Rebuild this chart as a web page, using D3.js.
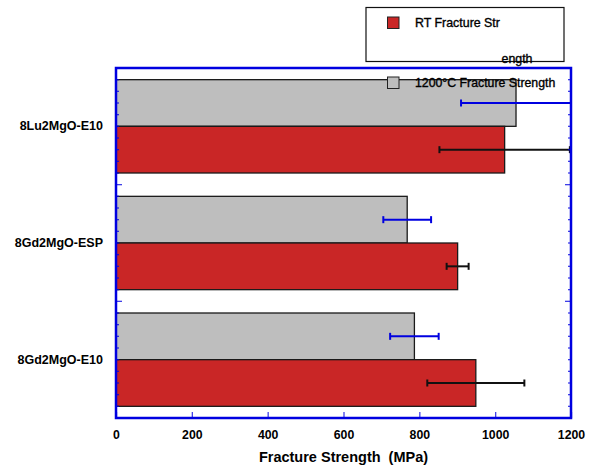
<!DOCTYPE html>
<html>
<head>
<meta charset="utf-8">
<script src="https://cdn.jsdelivr.net/npm/d3@7/dist/d3.min.js"></script>
<style>
  html, body { margin: 0; padding: 0; background: #fff; }
  svg { display: block; font-family: "Liberation Sans", Arial, Helvetica, sans-serif; }
  text { white-space: pre; }
</style>
</head>
<body>
<svg id="chart" width="595" height="466"></svg>
<script>
// Fracture strength of the three compositions (MPa)
const categories = ["8Lu2MgO-E10", "8Gd2MgO-ESP", "8Gd2MgO-E10"];
const rtStrength = [1025, 901, 949];
const rtError = [172, 29, 128];
const htStrength = [1055, 768, 787];
const htError = [145, 63, 64];
const xTickValues = [0, 200, 400, 600, 800, 1000, 1200];
const seriesNames = ["RT Fracture Str", "1200°C Fracture Strength"];

const svg = d3.select("#chart");
const pLeft = 116, pRight = 571, pTop = 68, pBottom = 418;

const x = d3.scaleLinear().domain([0, 1200]).range([pLeft, pRight]);
const y = d3.scaleBand().domain(categories).range([pTop, pBottom])
  .paddingInner(0.2).paddingOuter(0.1);
const sub = d3.scaleBand().domain(["ht", "rt"]).range([0, y.bandwidth()]);

const colors = { rt: "#c92626", ht: "#bebebe" };
const errColors = { rt: "#111111", ht: "#0000e0" };

svg.append("defs").append("clipPath").attr("id", "plotClip")
  .append("rect").attr("x", pLeft).attr("y", pTop)
  .attr("width", pRight - pLeft).attr("height", pBottom - pTop);

const rows = categories.map((c, i) => [
  { cat: c, key: "ht", v: htStrength[i], e: htError[i] },
  { cat: c, key: "rt", v: rtStrength[i], e: rtError[i] }
]).flat();

const plot = svg.append("g").attr("clip-path", "url(#plotClip)");

// bars
plot.selectAll("rect.bar").data(rows).join("rect")
  .attr("class", "bar")
  .attr("x", x(0))
  .attr("y", d => y(d.cat) + sub(d.key))
  .attr("width", d => x(d.v) - x(0))
  .attr("height", sub.bandwidth())
  .attr("fill", d => colors[d.key])
  .attr("stroke", "#1a1a1a")
  .attr("stroke-width", 1.3);

// error bars
const cy = d => y(d.cat) + sub(d.key) + sub.bandwidth() / 2;
const eb = plot.selectAll("g.err").data(rows).join("g").attr("class", "err")
  .attr("stroke", d => errColors[d.key]).attr("stroke-width", 2);
eb.append("line")
  .attr("x1", d => x(d.v - d.e)).attr("x2", d => x(d.v + d.e))
  .attr("y1", cy).attr("y2", cy);
[-1, 1].forEach(s => {
  eb.append("line")
    .attr("x1", d => x(d.v + s * d.e)).attr("x2", d => x(d.v + s * d.e))
    .attr("y1", d => cy(d) - 3.5)
    .attr("y2", d => cy(d) + 3.5);
});

// frame
const blue = "#0000e0";
svg.append("rect").attr("x", pLeft).attr("y", pTop)
  .attr("width", pRight - pLeft).attr("height", pBottom - pTop)
  .attr("fill", "none").attr("stroke", blue).attr("stroke-width", 2.5);

// bottom axis: major ticks pointing inward, labels below
const xAxis = d3.axisBottom(x).tickValues(xTickValues).tickFormat(d3.format("d"))
  .tickSizeInner(-6).tickSizeOuter(0).tickPadding(12);
const gx = svg.append("g").attr("transform", `translate(0,${pBottom})`).call(xAxis);
gx.select(".domain").remove();
gx.selectAll(".tick line").attr("stroke", blue).attr("stroke-width", 1.3).attr("opacity", 0.75);
gx.selectAll(".tick text").attr("fill", "#000").attr("font-size", "12.3px")
  .attr("font-weight", "bold").attr("font-family", "Liberation Sans, Arial, sans-serif");

// left / right ticks: majors at group boundaries, minors at tenths
const step = y.step();
const minorPos = d3.range(1, 30).filter(k => k % 10 !== 0).map(k => pTop + k * step / 10);
const majorPos = [1, 2].map(k => pTop + k * step);
const ticks = svg.append("g").attr("stroke", blue).attr("stroke-width", 1.3).attr("opacity", 0.75);
[[pLeft, 1], [pRight, -1]].forEach(([x0, dir]) => {
  ticks.selectAll(null).data(minorPos).join("line")
    .attr("x1", x0).attr("x2", x0 + dir * 3).attr("y1", d => d).attr("y2", d => d);
  ticks.selectAll(null).data(majorPos).join("line")
    .attr("x1", x0).attr("x2", x0 + dir * 6).attr("y1", d => d).attr("y2", d => d);
});

// category labels
const yAxis = d3.axisLeft(y).tickSize(0).tickPadding(13);
const gy = svg.append("g").attr("transform", `translate(${pLeft},0)`).call(yAxis);
gy.select(".domain").remove();
gy.selectAll(".tick text").attr("fill", "#000").attr("font-size", "12.5px")
  .attr("font-weight", "bold").attr("font-family", "Liberation Sans, Arial, sans-serif");

// axis title
svg.append("text").attr("x", (pLeft + pRight) / 2).attr("y", 462)
  .attr("text-anchor", "middle").attr("font-size", "14.5px").attr("font-weight", "bold")
  .text("Fracture Strength  (MPa)");

// legend
const lg = svg.append("g");
lg.append("rect").attr("x", 366).attr("y", 7.5).attr("width", 198).attr("height", 54)
  .attr("fill", "#fff").attr("stroke", "#111").attr("stroke-width", 1.2);
lg.append("rect").attr("x", 387.5).attr("y", 17).attr("width", 11.5).attr("height", 11.5)
  .attr("fill", colors.rt).attr("stroke", "#222").attr("stroke-width", 1);
const legendText = (xp, yp, s, txt) => lg.append("text").attr("x", xp).attr("y", yp)
  .attr("font-size", s).attr("fill", "#000").attr("stroke", "#000")
  .attr("stroke-width", 0.35).text(txt);
legendText(415, 27, "12.4px", seriesNames[0]);
legendText(501.5, 63, "12.4px", "ength");
lg.append("rect").attr("x", 387.5).attr("y", 77).attr("width", 11.5).attr("height", 11.5)
  .attr("fill", colors.ht).attr("stroke", "#222").attr("stroke-width", 1);
legendText(415, 87, "12.3px", seriesNames[1]);
</script>
</body>
</html>
